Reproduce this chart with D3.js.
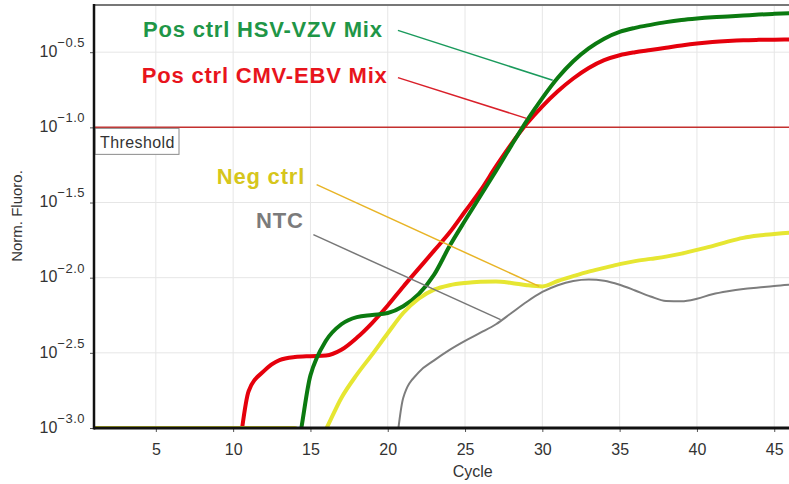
<!DOCTYPE html>
<html>
<head>
<meta charset="utf-8">
<title>Norm. Fluoro. vs Cycle</title>
<style>
  body { margin: 0; background: #fff; }
  svg { display: block; font-family: "Liberation Sans", Arial, sans-serif; }
  .tick text { fill: #333; }
  .grid line { stroke: #e6e6e6; stroke-width: 1; }
  .label { font-weight: bold; font-size: 22px; letter-spacing: 0.8px; }
</style>
<script src="https://d3js.org/d3.v7.min.js"></script>
</head>
<body>
<div id="chart"></div>
<script>
// cycles 1..46, values are log10 of normalised fluorescence
var cycles = d3.range(1, 47);

var hsvVzv = [-3, -3, -3, -3, -3, -3, -3, -3, -3, -3,
  -3, -3, -3, -3.15, -2.65, -2.42, -2.31, -2.262, -2.248, -2.235,
  -2.19, -2.11, -1.98, -1.79, -1.62, -1.455, -1.29, -1.12, -0.955, -0.805,
  -0.67, -0.56, -0.475, -0.41, -0.365, -0.338, -0.318, -0.30, -0.286, -0.276,
  -0.268, -0.262, -0.256, -0.25, -0.245, -0.24];

var cmvEbv = [-3, -3, -3, -3, -3, -3, -3, -3, -3, -3.3,
  -2.755, -2.62, -2.548, -2.528, -2.522, -2.518, -2.48, -2.40, -2.30, -2.185,
  -2.06, -1.94, -1.82, -1.70, -1.56, -1.42, -1.26, -1.11, -0.975, -0.86,
  -0.76, -0.675, -0.605, -0.553, -0.52, -0.50, -0.485, -0.47, -0.455, -0.442,
  -0.432, -0.425, -0.42, -0.418, -0.417, -0.415];

var negCtrl = [-3, -3, -3, -3, -3, -3, -3, -3, -3, -3,
  -3, -3, -3, -3, -3.2, -3.01, -2.80, -2.645, -2.51, -2.37,
  -2.235, -2.14, -2.08, -2.05, -2.035, -2.027, -2.025, -2.035, -2.05, -2.058,
  -2.022, -1.99, -1.96, -1.935, -1.91, -1.89, -1.875, -1.86, -1.84, -1.815,
  -1.79, -1.76, -1.735, -1.72, -1.71, -1.70];

var ntc = [-3, -3, -3, -3, -3, -3, -3, -3, -3, -3,
  -3, -3, -3, -3, -3, -3, -3, -3, -3, -3.45,
  -2.80, -2.63, -2.55, -2.48, -2.42, -2.366, -2.31, -2.235, -2.16, -2.095,
  -2.05, -2.022, -2.012, -2.02, -2.047, -2.085, -2.125, -2.155, -2.157, -2.14,
  -2.11, -2.09, -2.075, -2.065, -2.055, -2.047];

var xTicks = [5, 10, 15, 20, 25, 30, 35, 40, 45];
var yTickExps = [-3.0, -2.5, -2.0, -1.5, -1.0, -0.5];
var thresholdExp = -1.0;

var series = [
  { name: "NTC", values: ntc, color: "#7d7d7d", width: 2 },
  { name: "Pos ctrl CMV-EBV Mix", values: cmvEbv, color: "#e5000c", width: 4 },
  { name: "Pos ctrl HSV-VZV Mix", values: hsvVzv, color: "#0b7a10", width: 4 },
  { name: "Neg ctrl", values: negCtrl, color: "#e6e632", width: 4 }
];

// label anchor and leader line, in cycle / log10 units
var labels = [
  { text: "Pos ctrl HSV-VZV Mix", color: "#1f9647", line: "#1a9a5c", at: [4.17, -0.397], from: [20.66, -0.355], to: [30.67, -0.687] },
  { text: "Pos ctrl CMV-EBV Mix", color: "#e8141c", line: "#d9202a", at: [4.09, -0.703], from: [20.66, -0.669], to: [28.97, -0.94] },
  { text: "Neg ctrl", color: "#d6c61c", line: "#e8b426", at: [8.94, -1.375], from: [15.4, -1.381], to: [29.8, -2.058] },
  { text: "NTC", color: "#7b7b7b", line: "#777", at: [11.48, -1.667], from: [15.19, -1.714], to: [27.3, -2.279] }
];

var W = 789, H = 484;
var mLeft = 94, mTop = 5, mBottom = 428;

var x = d3.scaleLinear().domain([1, 50]).range([mLeft, mLeft + 49 * 15.46]);
var y = d3.scaleLog().domain([1e-3, Math.pow(10, -0.186)]).range([mBottom, mTop]);
var py = function(e) { return y(Math.pow(10, e)); };
var xEnd = x.range()[1];

var svg = d3.select("#chart").append("svg")
  .attr("width", W)
  .attr("height", H);

svg.append("defs").append("clipPath").attr("id", "plot")
  .append("rect")
  .attr("x", mLeft).attr("y", mTop)
  .attr("width", xEnd - mLeft).attr("height", mBottom - mTop);

// grid
var grid = svg.append("g").attr("class", "grid");
grid.selectAll(".vg").data(xTicks).enter().append("line")
  .attr("x1", d => x(d)).attr("x2", d => x(d))
  .attr("y1", mTop).attr("y2", mBottom);
grid.selectAll(".hg").data(yTickExps.slice(1)).enter().append("line")
  .attr("x1", mLeft).attr("x2", xEnd)
  .attr("y1", d => py(d)).attr("y2", d => py(d));

// threshold
svg.append("line")
  .attr("x1", mLeft).attr("x2", xEnd)
  .attr("y1", py(thresholdExp)).attr("y2", py(thresholdExp))
  .attr("stroke", "#c4302e").attr("stroke-width", 1.5);

var tb = svg.append("g").attr("transform", "translate(" + (mLeft + 1) + "," + (py(thresholdExp) + 1) + ")");
tb.append("rect").attr("width", 84).attr("height", 26)
  .attr("fill", "#fff").attr("stroke", "#8a8a8a").attr("stroke-width", 1);
tb.append("text").attr("x", 5).attr("y", 20)
  .attr("font-size", 16).attr("fill", "#333").attr("letter-spacing", "0.4px")
  .text("Threshold");

// curves
var line = d3.line()
  .x((d, i) => x(cycles[i]))
  .y(d => py(d))
  .curve(d3.curveMonotoneX);

svg.append("g").attr("clip-path", "url(#plot)")
  .selectAll("path").data(series).enter().append("path")
  .attr("d", d => line(d.values))
  .attr("fill", "none")
  .attr("stroke", d => d.color)
  .attr("stroke-width", d => d.width)
  .attr("stroke-linejoin", "round");

// annotations
var ann = svg.append("g");
ann.selectAll("line").data(labels).enter().append("line")
  .attr("x1", d => x(d.from[0])).attr("y1", d => py(d.from[1]))
  .attr("x2", d => x(d.to[0])).attr("y2", d => py(d.to[1]))
  .attr("stroke", d => d.line).attr("stroke-width", 1.5);
ann.selectAll("text").data(labels).enter().append("text")
  .attr("class", "label")
  .attr("x", d => x(d.at[0])).attr("y", d => py(d.at[1]))
  .attr("fill", d => d.color)
  .text(d => d.text);

// axes
var xAxis = d3.axisBottom(x).tickValues(xTicks).tickSize(4).tickPadding(12);
var gx = svg.append("g")
  .attr("transform", "translate(0," + mBottom + ")")
  .call(xAxis);
gx.select(".domain").remove();
gx.selectAll(".tick line").attr("stroke", "#555");
gx.selectAll("text").attr("font-size", 16).attr("font-family", null);

var yAxis = d3.axisLeft(y)
  .tickValues(yTickExps.map(e => Math.pow(10, e)))
  .tickSize(4).tickPadding(5)
  .tickFormat("");
var gy = svg.append("g")
  .attr("transform", "translate(" + mLeft + ",0)")
  .call(yAxis);
gy.select(".domain").remove();
gy.selectAll(".tick line").attr("stroke", "#555");
gy.selectAll(".tick text").each(function(d) {
  var t = d3.select(this).attr("font-family", null).attr("dy", "0.42em");
  t.append("tspan").attr("font-size", 16).text("10");
  t.append("tspan").attr("font-size", 13).attr("dy", "-0.75em").attr("letter-spacing", "0.5px")
    .text(d3.format(".1f")(Math.log10(d)));
});

// frame
svg.append("line").attr("x1", mLeft).attr("x2", W).attr("y1", mTop).attr("y2", mTop)
  .attr("stroke", "#777").attr("stroke-width", 2);
svg.append("line").attr("x1", mLeft).attr("x2", mLeft).attr("y1", mTop - 1).attr("y2", mBottom + 1.5)
  .attr("stroke", "#111").attr("stroke-width", 2.5);
svg.append("line").attr("x1", mLeft).attr("x2", W).attr("y1", mBottom).attr("y2", mBottom)
  .attr("stroke", "#111").attr("stroke-width", 3);

// axis titles
svg.append("text")
  .attr("x", (x.range()[0] + xEnd) / 2).attr("y", 477)
  .attr("text-anchor", "middle").attr("font-size", 16).attr("fill", "#333")
  .text("Cycle");
svg.append("text")
  .attr("transform", "translate(22,216) rotate(-90)")
  .attr("text-anchor", "middle").attr("font-size", 15).attr("fill", "#333")
  .text("Norm. Fluoro.");
</script>
</body>
</html>
